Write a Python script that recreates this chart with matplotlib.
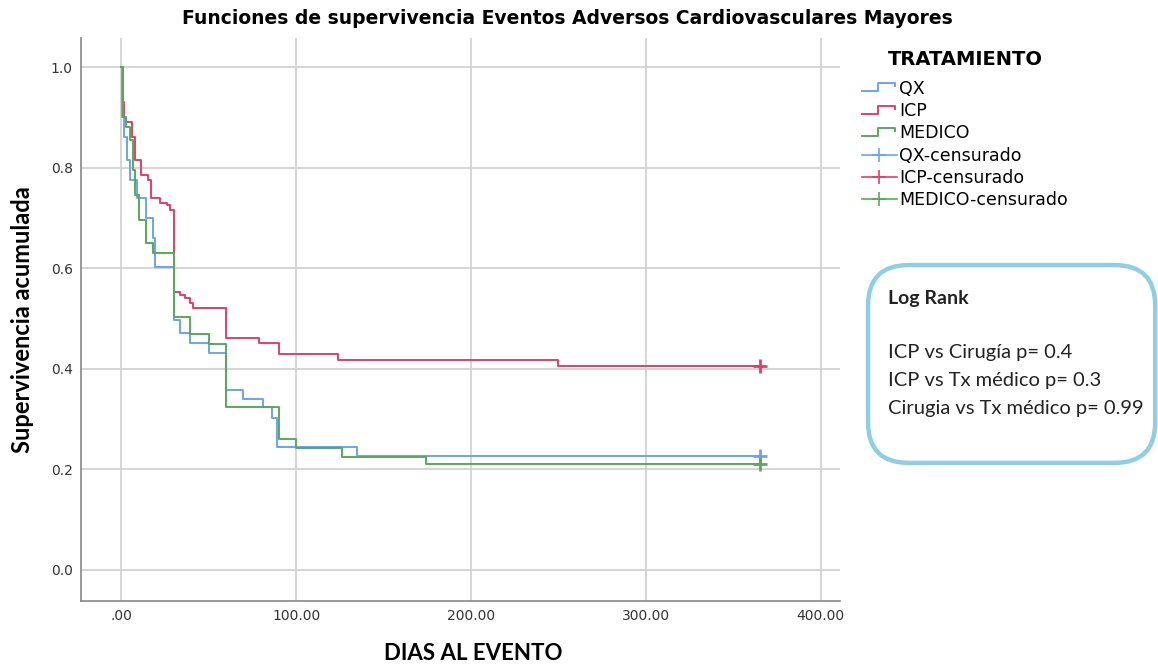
"""
Kaplan-Meier curves, MACE by treatment group
"""

import matplotlib
matplotlib.use("Agg")
import matplotlib.pyplot as plt
from matplotlib.legend_handler import HandlerBase
from matplotlib.lines import Line2D
from matplotlib.patches import FancyBboxPatch

# survival steps (days, cumulative survival)
qx_t = [0, 0.5, 1.5, 3, 5, 9, 14, 18, 19.5, 30, 33.7, 39.4, 50, 60, 69.7, 81, 86, 89, 135, 366]
qx_s = [1.0, 0.90, 0.86, 0.815, 0.775, 0.739, 0.70, 0.66, 0.603, 0.496, 0.472, 0.452, 0.432,
        0.358, 0.34, 0.323, 0.303, 0.245, 0.227, 0.227]

icp_t = [0, 1, 1.5, 2.5, 6, 8, 11, 15, 17, 22, 26, 28, 30, 33.7, 36.6, 39.4, 41, 60, 79, 90, 124, 250, 366]
icp_s = [1.0, 0.93, 0.90, 0.89, 0.86, 0.815, 0.785, 0.775, 0.74, 0.73, 0.725, 0.715, 0.552,
         0.546, 0.54, 0.53, 0.52, 0.462, 0.452, 0.43, 0.418, 0.406, 0.406]

med_t = [0, 1, 2.5, 5, 6.5, 8, 10, 14, 18, 30, 39.4, 50, 60, 90, 100, 126, 174, 366]
med_s = [1.0, 0.90, 0.88, 0.855, 0.795, 0.745, 0.695, 0.65, 0.631, 0.502, 0.47, 0.45, 0.323,
         0.26, 0.243, 0.225, 0.211, 0.211]

censor_day = 365
censor_s = [0.227, 0.406, 0.211]

groups = ["QX", "ICP", "MEDICO"]
colors = ["#6aa5ec", "#e43e68", "#58aa58"]

xticks = [0, 100, 200, 300, 400]
xticklabels = [".00", "100.00", "200.00", "300.00", "400.00"]
yticks = [0.0, 0.2, 0.4, 0.6, 0.8, 1.0]

logrank = ["ICP vs Cirugía p= 0.4", "ICP vs Tx médico p= 0.3", "Cirugia vs Tx médico p= 0.99"]


class StepHandler(HandlerBase):
    # little step icon like the SPSS legend
    def create_artists(self, legend, orig_handle, xdescent, ydescent,
                       width, height, fontsize, trans):
        w, h = width, height
        xs = [-xdescent, w * 0.45, w * 0.45, w * 0.95, w * 0.95]
        ys = [h * 0.2, h * 0.2, h * 0.85, h * 0.85, h * 0.6]
        ln = Line2D(xs, ys, color=orig_handle.get_color(), lw=1.4, transform=trans)
        return [ln]


fig = plt.figure(figsize=(11.58, 6.66), dpi=100)
ax = fig.add_axes([0.07, 0.0976, 0.6554, 0.8454])

for t, s, c in zip([qx_t, icp_t, med_t], [qx_s, icp_s, med_s], colors):
    ax.step(t, s, where="post", color=c, lw=1.4, zorder=3)
for s, c in zip(censor_s, colors):
    ax.plot([censor_day], [s], marker="+", ms=10, mew=2, color=c, zorder=4)

ax.set_xlim(-23, 411)
ax.set_ylim(-0.062, 1.058)
ax.set_xticks(xticks)
ax.set_xticklabels(xticklabels)
ax.set_yticks(yticks)
ax.set_yticklabels(["%.1f" % v for v in yticks])
ax.tick_params(length=0, labelsize=10, labelcolor="#333333", pad=6)
ax.grid(True, color="#d2d2d2", lw=1.3)
ax.set_axisbelow(True)
for sp in ["top", "right"]:
    ax.spines[sp].set_visible(False)
for sp in ["left", "bottom"]:
    ax.spines[sp].set_color("#888888")
    ax.spines[sp].set_linewidth(1.2)

ax.set_xlabel("DIAS AL EVENTO", fontsize=16, fontweight="bold", family="Lato", labelpad=14)
ax.xaxis.label.set_x(0.5165)
ax.set_ylabel("Supervivencia acumulada", fontsize=17, fontweight="bold", family="Lato", labelpad=12)
fig.text(0.49, 0.972, "Funciones de supervivencia Eventos Adversos Cardiovasculares Mayores",
         ha="center", va="center", fontsize=13.5, fontweight="bold")

# legend
step_handles = [Line2D([], [], color=c) for c in colors]
cens_handles = [Line2D([], [], color=c, marker="+", ms=10, mew=1.2, lw=1.2) for c in colors]
labels = groups + [g + "-censurado" for g in groups]
leg = fig.legend(step_handles + cens_handles, labels, loc="upper left",
                 bbox_to_anchor=(0.731, 0.948), frameon=False, fontsize=12.5,
                 title="TRATAMIENTO", title_fontproperties={"weight": "bold", "size": 14},
                 handler_map={h: StepHandler() for h in step_handles},
                 handlelength=2.0, handletextpad=0.15, labelspacing=0.25)
leg._legend_box.sep = 7.5  # extra gap under the title

# log rank box
box = FancyBboxPatch((0.7496, 0.305), 0.248, 0.297, boxstyle="round,pad=0,rounding_size=0.035",
                     transform=fig.transFigure, fc="white", ec="#8ecfe4", lw=3.2,
                     mutation_aspect=1158 / 666)
fig.patches.append(box)
fig.text(0.767, 0.552, "Log Rank", fontsize=14, fontweight="bold", family="Lato",
         color="#222222", va="center")
for i, line in enumerate(logrank):
    fig.text(0.767, 0.471 - i * 0.042, line, fontsize=14.5, family="Lato",
             color="#222222", va="center")

fig.savefig("out.png", dpi=100)
